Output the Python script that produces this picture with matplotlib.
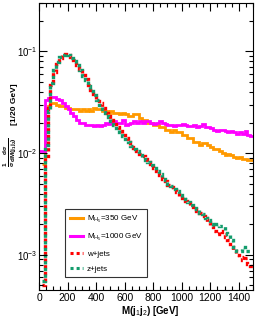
import numpy as np
import matplotlib
matplotlib.use("Agg")
from matplotlib import pyplot as plt
from matplotlib.ticker import MultipleLocator, LogLocator, NullFormatter, FixedLocator

plt.rcParams["font.family"] = ["Liberation Sans", "DejaVu Sans"]
plt.rcParams["mathtext.fontset"] = "custom"
plt.rcParams["mathtext.rm"] = "Liberation Sans"
plt.rcParams["mathtext.it"] = "Liberation Sans"
plt.rcParams["mathtext.bf"] = "Liberation Sans:bold"

# ------------------- #
# Data: normalised M(j1 j2) distributions, 20 GeV bins from 0 to 1500

bin_edges = np.arange(0, 1501, 20)

h350 = [
    np.nan, 0.0078, 0.027, 0.029, 0.031, 0.031, 0.030, 0.029, 0.029, 0.028,
    0.028, 0.027, 0.027, 0.027, 0.026, 0.027, 0.026, 0.027, 0.026, 0.028,
    0.027, 0.027, 0.026, 0.026, 0.025, 0.026, 0.025, 0.025, 0.024, 0.025,
    0.024, 0.023, 0.023, 0.024, 0.024, 0.022, 0.021, 0.021, 0.020, 0.020,
    0.019, 0.019, 0.018, 0.018, 0.017, 0.017, 0.016, 0.017, 0.016, 0.016,
    0.015, 0.015, 0.014, 0.014, 0.013, 0.013, 0.012, 0.0125, 0.0125, 0.012,
    0.0115, 0.011, 0.011, 0.0105, 0.010, 0.0095, 0.0097, 0.0095, 0.0092, 0.009,
    0.0091, 0.0088, 0.0087, 0.0086, 0.0086,
]

h1000 = [
    0.0105, 0.0105, 0.033, 0.035, 0.036, 0.036, 0.034, 0.033, 0.031, 0.029,
    0.027, 0.025, 0.023, 0.021, 0.020, 0.020, 0.019, 0.019, 0.019, 0.0185,
    0.019, 0.0185, 0.019, 0.020, 0.0195, 0.020, 0.0205, 0.020, 0.020, 0.021,
    0.019, 0.0195, 0.020, 0.0205, 0.020, 0.0205, 0.020, 0.0205, 0.0205, 0.020,
    0.0195, 0.020, 0.0205, 0.020, 0.0195, 0.019, 0.019, 0.0185, 0.019, 0.019,
    0.0195, 0.019, 0.0185, 0.0185, 0.019, 0.018, 0.0185, 0.0195, 0.018, 0.018,
    0.0175, 0.017, 0.0165, 0.017, 0.017, 0.0165, 0.016, 0.0165, 0.016, 0.0155,
    0.016, 0.0155, 0.0165, 0.015, 0.0148,
]

wjets = [
    np.nan, 0.0005, 0.009, 0.028, 0.047, 0.063, 0.076, 0.086, 0.092, 0.094,
    0.093, 0.088, 0.082, 0.074, 0.067, 0.059, 0.053, 0.047, 0.042, 0.038,
    0.034, 0.031, 0.028, 0.025, 0.023, 0.021, 0.0195, 0.018, 0.0165, 0.015,
    0.014, 0.013, 0.012, 0.0112, 0.0105, 0.0098, 0.0093, 0.0088, 0.0082, 0.0078,
    0.0071, 0.0066, 0.0061, 0.0056, 0.0053, 0.0049, 0.0046, 0.0043, 0.0041, 0.0038,
    0.0036, 0.0034, 0.0032, 0.0031, 0.0028, 0.0027, 0.0026, 0.0024, 0.0023, 0.0021,
    0.0019, 0.0017, 0.0016, 0.0017, 0.0016, 0.0015, 0.0014, 0.0012, 0.0011, 0.0010,
    0.00095, 0.00088, 0.00092, 0.00082, 0.00078,
]

zjets = [
    np.nan, 0.00055, 0.012, 0.026, 0.049, 0.065, 0.078, 0.088, 0.093, 0.095,
    0.092, 0.087, 0.081, 0.073, 0.066, 0.058, 0.052, 0.046, 0.041, 0.037,
    0.033, 0.030, 0.027, 0.025, 0.0225, 0.0205, 0.019, 0.0175, 0.016, 0.0148,
    0.0137, 0.0128, 0.0118, 0.011, 0.0104, 0.0096, 0.0091, 0.0086, 0.0081, 0.0076,
    0.0072, 0.0067, 0.0062, 0.0058, 0.0054, 0.0050, 0.0047, 0.0044, 0.0042, 0.0039,
    0.0037, 0.0035, 0.0033, 0.0031, 0.0029, 0.0028, 0.0026, 0.0025, 0.0023, 0.0022,
    0.0020, 0.0019, 0.0020, 0.0019, 0.0019, 0.0017, 0.0016, 0.0014, 0.0012, 0.0011,
    0.0011, 0.0012, 0.0011, 0.0011, 0.0011,
]

labels = [
    r"M$_{H_5}$=350 GeV",
    r"M$_{H_5}$=1000 GeV",
    "w+jets",
    "z+jets",
]

# ------------------- #
# Plot

fig = plt.figure(figsize=(2.62, 3.27), dpi=100)
ax = fig.add_axes([0.149, 0.113, 0.817, 0.878])

ax.stairs(h350, bin_edges, baseline=None, color="#ff9900", lw=2.0, label=labels[0])
ax.stairs(h1000, bin_edges, baseline=None, color="#ff00ff", lw=2.0, label=labels[1])
ax.stairs(wjets, bin_edges, baseline=None, color="#ff0000", lw=2.4, ls=(0, (1, 1)),
          label=labels[2])
ax.stairs(zjets, bin_edges, baseline=None, color="#139c6c", lw=2.4, ls=(0, (1, 1)),
          label=labels[3])

ax.set_yscale("log")
ax.set_xlim(0, 1500)
ax.set_ylim(4.5e-4, 0.3)

ax.xaxis.set_major_locator(MultipleLocator(200))
ax.xaxis.set_minor_locator(MultipleLocator(50))
ax.yaxis.set_major_locator(FixedLocator([1e-3, 1e-2, 1e-1]))
ax.yaxis.set_minor_locator(LogLocator(base=10, subs=np.arange(2, 10)))
ax.yaxis.set_minor_formatter(NullFormatter())
ax.set_yticklabels([r"10$^{-3}$", r"10$^{-2}$", r"10$^{-1}$"])

ax.tick_params(which="both", direction="in", top=True, right=True, labelsize=7.5,
               width=0.8, pad=2)
ax.tick_params(axis="y", labelsize=7, pad=1)
ax.tick_params(which="major", length=6)
ax.tick_params(which="minor", length=3)
for sp in ax.spines.values():
    sp.set_linewidth(0.8)

ax.set_xlabel(r"M(j$_{\mathrm{1}}$j$_{\mathrm{2}}$) [GeV]", fontsize=7,
              fontweight="bold", labelpad=1)
ax.xaxis.set_label_coords(0.52, -0.05)

# y title in two pieces: the fraction and the bin-width unit
fig.text(10 / 262, 1 - 152 / 327,
         r"$\mathbf{\frac{1}{\sigma}\frac{d\sigma}{dM(j_1j_2)}}$",
         rotation=90, ha="center", va="center", fontsize=6.6)
fig.text(14 / 262, 1 - 104 / 327, "[1/20 GeV]",
         rotation=90, ha="center", va="center", fontsize=6, fontweight="bold")

leg = ax.legend(loc="lower left", bbox_to_anchor=(0.122, 0.045), fontsize=5.8,
                frameon=True, fancybox=False, edgecolor="black",
                handlelength=1.7, handletextpad=0.45, labelspacing=0.9,
                borderpad=0.55, borderaxespad=0)
leg.get_frame().set_linewidth(0.8)
for line in leg.get_lines():
    line.set_linewidth(2.2)

fig.savefig("out.png", dpi=100)
